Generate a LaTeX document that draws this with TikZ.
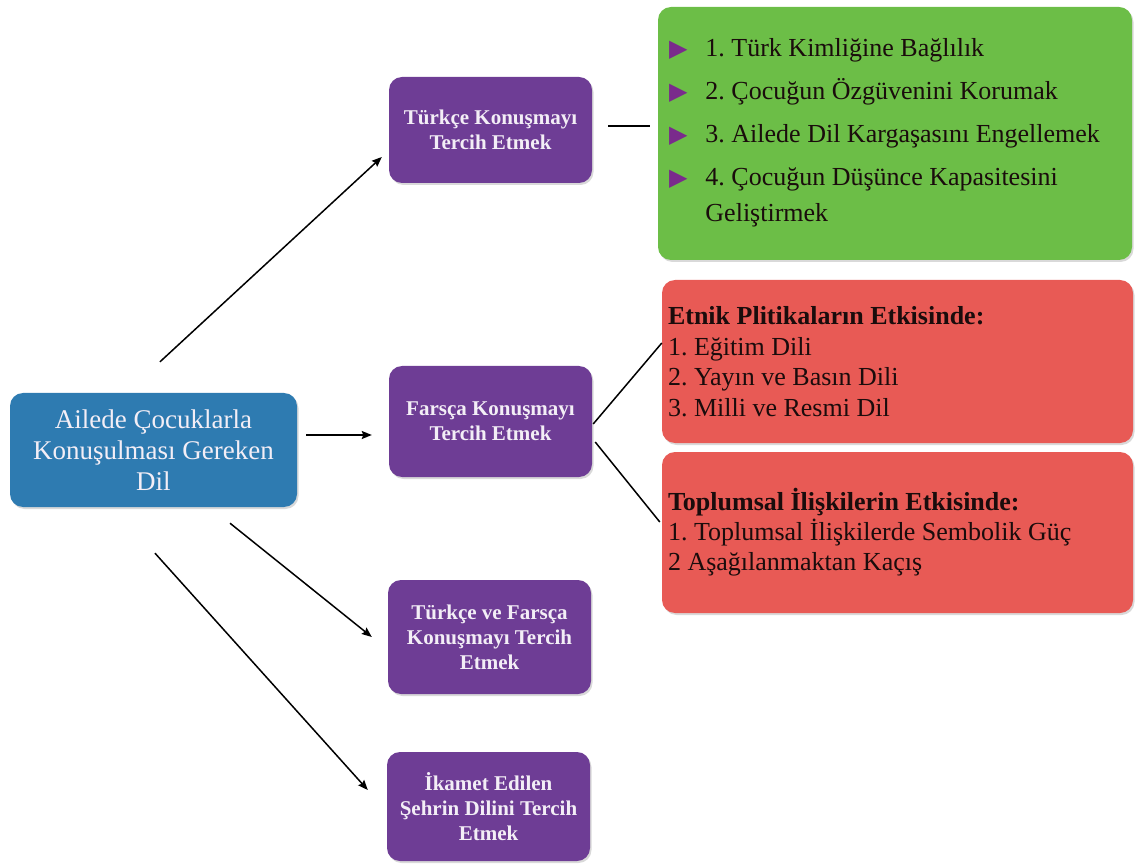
\documentclass[tikz,border=0pt]{standalone}
\usepackage{fontspec}
\setmainfont{Liberation Serif}
\newfontfamily\textserif{Liberation Serif}
\newfontfamily\bulletglyphs{DejaVu Sans}
\usetikzlibrary{arrows.meta,shadows,calc}
\frenchspacing

\definecolor{rootblue}{HTML}{2E7BB1}
\definecolor{optpurple}{HTML}{6E3D95}
\definecolor{leafgreen}{HTML}{6CBE47}
\definecolor{leafred}{HTML}{E85A55}
\definecolor{bulletpurple}{HTML}{7A2B8C}
\definecolor{paletext}{HTML}{F3EEF6}
\definecolor{darktext}{HTML}{1A0C0C}

% purple triangle bullet of the list
\newcommand\listbullet{\textcolor{bulletpurple}{\bulletglyphs\fontsize{24}{24}\selectfont ▶}}

\tikzset{
  box/.style={rounded corners=13pt, inner sep=0pt,
    drop shadow={opacity=0.3, shadow xshift=1.5pt, shadow yshift=-2pt}},
  root/.style={box, fill=rootblue, minimum width=287pt, minimum height=114pt,
    text=paletext, align=center, font=\textserif\fontsize{27}{31}\selectfont},
  option/.style={box, fill=optpurple, minimum width=203pt, minimum height=110pt,
    text=paletext, align=center, font=\textserif\bfseries\fontsize{21}{25}\selectfont},
  reasons/.style={box, fill=leafgreen, minimum width=474pt, minimum height=253pt,
    inner xsep=11pt, text=darktext, font=\textserif},
  factor/.style={box, fill=leafred, minimum width=471pt, inner xsep=6pt, text=darktext,
    font=\textserif},
  link/.style={line width=1.5pt, black},
  arrowlink/.style={link, -{Stealth[length=10pt,width=8pt,inset=1.5pt]}},
}

\begin{document}
\begin{tikzpicture}[x=1pt,y=-1pt]
\useasboundingbox (0,0) rectangle (1135,866);

% central question
\node[root] (root) at (153.5,450) {Ailede Çocuklarla\\Konuşulması Gereken\\Dil};

% the four preferences
\node[option, minimum height=106pt] (opt1) at (490.5,130) {Türkçe Konuşmayı\\Tercih Etmek};
\node[option, minimum height=111pt] (opt2) at (490.5,421.5) {Farsça Konuşmayı\\Tercih Etmek};
\node[option, minimum height=114pt] (opt3) at (489.5,637) {Türkçe ve Farsça\\Konuşmayı Tercih\\Etmek};
\node[option, minimum height=109pt] (opt4) at (488.5,806.5) {İkamet Edilen\\Şehrin Dilini Tercih\\Etmek};

% reasons for Turkish
\node[reasons] (reasons) at (895,133.5) {\begin{minipage}{452pt}\textserif\fontsize{26}{36}\selectfont
\vspace*{-3pt}
\begin{tabular}{@{}l@{\hspace{18pt}}l@{}}
\listbullet & 1. Türk Kimliğine Bağlılık\\[7pt]
\listbullet & 2. Çocuğun Özgüvenini Korumak\\[7pt]
\listbullet & 3. Ailede Dil Kargaşasını Engellemek\\[7pt]
\listbullet & 4. Çocuğun Düşünce Kapasitesini\\
 & Geliştirmek
\end{tabular}\end{minipage}};

% factors behind Persian
\node[factor, minimum height=163pt] (ethnic) at (897.5,361.5) {\begin{minipage}{459pt}\textserif\fontsize{26}{30.5}\selectfont
\textbf{Etnik Plitikaların Etkisinde:}\\
1. Eğitim Dili\\
2. Yayın ve Basın Dili\\
3. Milli ve Resmi Dil\end{minipage}};
\node[factor, minimum height=161pt] (social) at (897.5,532.5) {\begin{minipage}{459pt}\textserif\fontsize{26}{30}\selectfont
\textbf{Toplumsal İlişkilerin Etkisinde:}\\
1. Toplumsal İlişkilerde Sembolik Güç\\
2 Aşağılanmaktan Kaçış\end{minipage}};

% connectors
\draw[arrowlink] ($(root.north)+(6.5,-31)$) -- ($(opt1.west)+(-7,27)$);
\draw[arrowlink] ($(root.east)+(9,-15)$) -- ($(opt2.west)+(-17,13.5)$);
\draw[arrowlink] ($(root.south)+(76.5,16)$) -- ($(opt3.west)+(-16,0)$);
\draw[arrowlink] ($(root.south)+(1.5,46)$) -- ($(opt4.west)+(-19,-16.5)$);
\draw[link] ($(opt1.east)+(16,-4)$) -- ($(reasons.west)+(-8,-7.5)$);
\draw[link] ($(opt2.east)+(1,2.5)$) -- ($(ethnic.west)+(0,-18.5)$);
\draw[link] ($(opt2.east)+(3,20.5)$) -- ($(social.west)+(-2,-10.5)$);
\end{tikzpicture}
\end{document}
